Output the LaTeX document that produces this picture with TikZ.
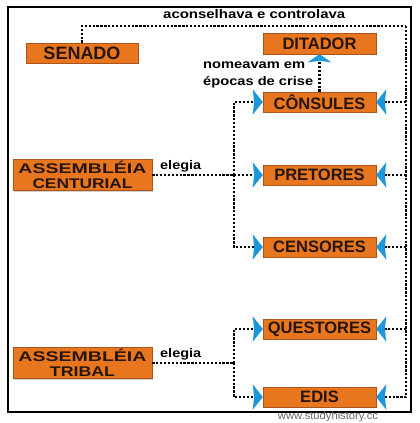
\documentclass[tikz,border=0pt]{standalone}
\usepackage{fontspec}
\setmainfont{Liberation Sans}
\usetikzlibrary{arrows.meta,shadows}
\definecolor{boxorange}{HTML}{E8761F}
\definecolor{boxedge}{HTML}{A9561C}
\definecolor{boxtext}{HTML}{26150B}
\definecolor{tipblue}{HTML}{1C97DA}
\newcommand{\stretchto}[2]{\resizebox{#1}{\height}{#2}}
\tikzset{
  office/.style={draw=boxedge, line width=0.5pt, fill=boxorange,
    drop shadow={shadow xshift=1.3pt, shadow yshift=-1.3pt, opacity=0.35},
    minimum width=113pt, minimum height=20pt, inner sep=0pt, text=boxtext,
    font=\fontsize{16.5}{18}\selectfont\bfseries},
  bigbox/.style={office, minimum width=139pt, minimum height=31pt,
    font=\fontsize{14}{14.5}\selectfont\bfseries, align=center},
  dotline/.style={line width=2.7pt, dash pattern=on 2.3pt off 1.6pt, black},
  sidetip/.style={-{Stealth[length=10pt,width=25pt,inset=1.5pt,line width=0.01pt,color=tipblue]}},
  uptip/.style={-{Stealth[length=8pt,width=23pt,inset=1.5pt,line width=0.01pt,color=tipblue]}},
  lbl/.style={font=\fontsize{12.5}{13}\selectfont\bfseries, inner sep=0pt, anchor=base west}
}
\begin{document}
\begin{tikzpicture}[x=1pt,y=-1pt]
\fill[white] (0,0) rectangle (420,423);
\useasboundingbox (0,0) rectangle (420,423);
\draw[line width=2pt] (8,7) rectangle (411,412);

\node[office, minimum width=112pt] (senado) at (82,53) {\fontsize{18}{20}\selectfont SENADO};
\node[office, minimum height=21pt] (ditador) at (319.5,43.5) {DITADOR};
\node[office] (consules) at (319.5,102) {CÔNSULES};
\node[office] (pretores) at (319.5,175) {PRETORES};
\node[office] (censores) at (319.5,247) {CENSORES};
\node[office] (questores) at (319.5,329) {QUESTORES};
\node[office] (edis) at (319.5,397) {EDIS};
\node[bigbox] (cent) at (82.5,175) {\stretchto{128pt}{ASSEMBLÉIA}\\\stretchto{100pt}{CENTURIAL}};
\node[bigbox] (trib) at (82.5,363) {\stretchto{128pt}{ASSEMBLÉIA}\\\stretchto{65pt}{TRIBAL}};

\node[lbl] (acons) at (163,18.5) {\stretchto{182pt}{aconselhava e controlava}};
\node[lbl] (nomeavam) at (203,68) {\stretchto{102pt}{nomeavam em}};
\node[lbl] (epocas) at (203,85) {\stretchto{110pt}{épocas de crise}};
\node[lbl] (elegia1) at (160,169) {\stretchto{41pt}{elegia}};
\node[lbl] (elegia2) at (160,357) {\stretchto{41pt}{elegia}};

% senate control line
\coordinate (tr) at (406,26);
\draw[dotline] (senado.north) |- (tr);
\draw[dotline,sidetip] (tr) |- (edis.east);
\draw[dotline,sidetip] (consules.east -| tr) -- (consules.east);
\draw[dotline,sidetip] (pretores.east -| tr) -- (pretores.east);
\draw[dotline,sidetip] (censores.east -| tr) -- (censores.east);
\draw[dotline,sidetip] (questores.east -| tr) -- (questores.east);

% dictator
\draw[dotline,uptip] (consules.north) -- (ditador.south);

% centurial assembly
\coordinate (jc) at (234,175);
\draw[dotline] (cent.east) -- (jc);
\draw[dotline,sidetip] (jc) |- (consules.west);
\draw[dotline,sidetip] (jc) -- (pretores.west);
\draw[dotline,sidetip] (jc) |- (censores.west);

% tribal assembly
\coordinate (jt) at (234,363);
\draw[dotline] (trib.east) -- (jt);
\draw[dotline,sidetip] (jt) |- (questores.west);
\draw[dotline,sidetip] (jt) |- (edis.west);

\node[font=\fontsize{11}{12}\selectfont, text=black!60, inner sep=0pt] (wm) at (328,416.5) {\stretchto{100pt}{www.studyhistory.cc}};
\end{tikzpicture}
\end{document}
